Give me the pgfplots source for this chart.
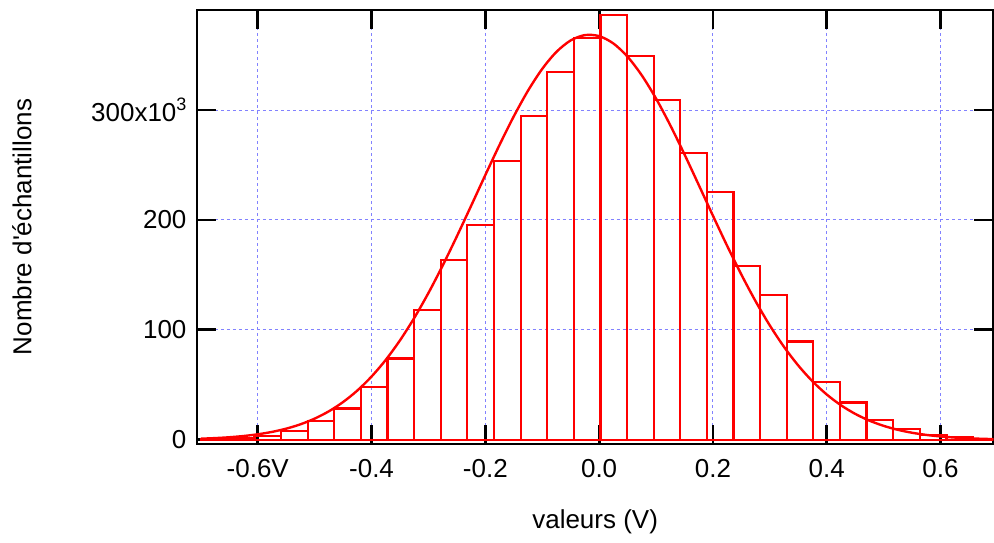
\documentclass[border=0pt]{standalone}
\usepackage{fontspec}
\setmainfont{Liberation Sans}
\usepackage{pgfplots}
\pgfplotsset{compat=1.18}
\definecolor{gridblue}{RGB}{130,130,255}
\begin{document}
\begin{tikzpicture}
\begin{axis}[
 name=ax,
 scale only axis, width=398.5pt, height=217pt,
 xmin=-0.707, xmax=0.693, ymin=-3.6, ymax=391,
 xtick={-0.6,-0.4,-0.2,0,0.2,0.4,0.6},
 xticklabels={-0.6V,-0.4,-0.2,0.0,0.2,0.4,0.6},
 ytick={0,100,200,300},
 yticklabels={0,100,200,{300x10\raisebox{5.5pt}{\fontsize{9}{10}\selectfont 3}}},
 xtick pos=both, ytick pos=both,
 xticklabel pos=lower, yticklabel pos=left,
 tick align=inside, major tick length=9.5pt,
 every tick/.style={black, line width=1.4pt},
 axis line style={line width=1.2pt},
 grid=major,
 major grid style={gridblue, line width=0.5pt, dash pattern=on 1.5pt off 1.5pt},
 font=\fontsize{13}{15}\selectfont,
 xticklabel style={yshift=-4.5pt},
 yticklabel style={xshift=-1.7pt},
 xlabel={valeurs (V)}, ylabel={Nombre d\textquotesingle échantillons},
 xlabel style={at={([yshift=-39pt]rel axis cs:0.5,0)}, anchor=center},
 ylabel style={at={([xshift=-87.5pt]rel axis cs:0,0.5)}, anchor=center},
 /pgf/number format/assume math mode=true,
]
\addplot[ybar interval, draw=red, fill=none, line width=1.1pt] coordinates {
(-0.6994,0.5) (-0.6526,1.3) (-0.6058,3.2) (-0.5591,8.2) (-0.5123,17.3)
(-0.4655,28.5) (-0.4187,47.9) (-0.3719,74) (-0.3252,118) (-0.2784,163.3)
(-0.2316,195.7) (-0.1848,253.9) (-0.1380,294.8) (-0.0913,334.5) (-0.0445,365.2)
(0.0023,386.6) (0.0491,348.8) (0.0959,308.8) (0.1426,260.6) (0.1894,225.2)
(0.2362,158.2) (0.2830,131.5) (0.3298,89.4) (0.3765,52.7) (0.4233,33.9)
(0.4701,18.2) (0.5169,9.7) (0.5637,4.5) (0.6104,2.2) (0.6572,1.0) (0.7040,0)
};
\addplot[red, line width=1.2pt, smooth] coordinates {
(-0.700,1.01) (-0.675,1.54) (-0.650,2.32) (-0.625,3.44) (-0.600,5.01)
(-0.575,7.18) (-0.550,10.13) (-0.525,14.08) (-0.500,19.26) (-0.475,25.93)
(-0.450,34.36) (-0.425,44.81) (-0.400,57.55) (-0.375,72.73) (-0.350,90.48)
(-0.325,110.81) (-0.300,133.57) (-0.275,158.50) (-0.250,185.13) (-0.225,212.84)
(-0.200,240.88) (-0.175,268.34) (-0.150,294.25) (-0.125,317.60) (-0.100,337.45)
(-0.075,352.92) (-0.050,363.32) (-0.025,368.16) (0.000,367.24) (0.025,360.57)
(0.050,348.49) (0.075,331.53) (0.100,310.47) (0.125,286.19) (0.150,259.68)
(0.175,231.93) (0.200,203.90) (0.225,176.46) (0.250,150.31) (0.275,126.04)
(0.300,104.02) (0.325,84.52) (0.350,67.59) (0.375,53.21) (0.400,41.23)
(0.425,31.45) (0.450,23.61) (0.475,17.45) (0.500,12.69) (0.525,9.09)
(0.550,6.41) (0.575,4.45) (0.600,3.04) (0.625,2.04) (0.650,1.35)
(0.675,0.88) (0.700,0.56)
};
\end{axis}
\pgfresetboundingbox
\path ([xshift=-98.5pt,yshift=-49.5pt]ax.south west) rectangle ([xshift=0.3pt,yshift=5pt]ax.north east);
\end{tikzpicture}
\end{document}
